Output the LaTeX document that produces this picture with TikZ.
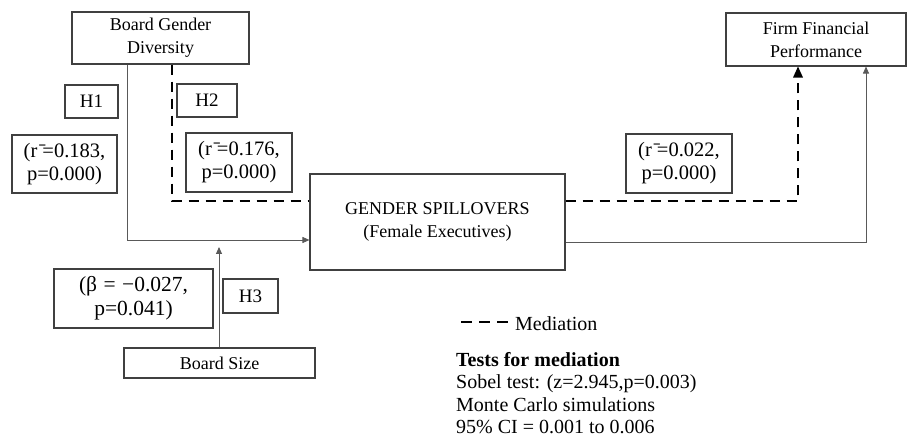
\documentclass[tikz,border=0pt]{standalone}
\usepackage{fontspec}
\setmainfont{Liberation Serif}
\usepackage{tikz}
\usetikzlibrary{arrows.meta}

\begin{document}
\begin{tikzpicture}[x=1pt,y=-1pt,
    box/.style={draw=black!75,line width=1.1pt,inner sep=0pt,align=center,
                font=\fontsize{18}{23}\selectfont},
    coef/.style={box,font=\fontsize{20.5}{23}\selectfont},
    hyp/.style={box,font=\fontsize{19}{23}\selectfont},
    link/.style={draw=black!65,line width=0.9pt,-{Triangle[length=7pt,width=6pt]}},
    med/.style={draw=black,line width=2.6pt,dash pattern=on 10pt off 7pt},
    legend/.style={font=\fontsize{20}{22.5}\selectfont,inner sep=0pt}]
    \useasboundingbox (0,0) rectangle (908,446);

    % variables
    \node[box,minimum width=177pt,minimum height=52pt] (bgd) at (160.5,38) {Board Gender\\Diversity};
    \node[box,minimum width=180pt,minimum height=53pt] (ffp) at (816,39.5) {Firm Financial\\Performance};
    \node[box,minimum width=255pt,minimum height=96pt] (gs) at (437.5,222) {GENDER SPILLOVERS\\(Female Executives)};
    \node[box,minimum width=191pt,minimum height=30pt] (bs) at (219.5,363) {Board Size};

    % hypotheses and coefficients
    \node[hyp,minimum width=53pt,minimum height=33pt] (h1) at (91.5,101.5) {H1};
    \node[hyp,minimum width=60pt,minimum height=33pt] (h2) at (207,100.5) {H2};
    \node[hyp,minimum width=55pt,minimum height=34pt] (h3) at (250.5,296) {H3};
    \node[coef,minimum width=105pt,minimum height=58pt] (r1) at (64.5,164) {(r\={}=0.183,\\p=0.000)};
    \node[coef,minimum width=106pt,minimum height=59pt] (r2) at (239,162.5) {(r\={}=0.176,\\p=0.000)};
    \node[coef,minimum width=106pt,minimum height=59pt] (r3) at (679,163.5) {(r\={}=0.022,\\p=0.000)};
    \node[coef,font=\fontsize{21.5}{24}\selectfont,minimum width=159pt,minimum height=59pt] (beta) at (133.5,298.5)
        {(β\hspace{0.3em}=\hspace{0.3em}−0.027,\\p=0.041)};

    % bends
    \coordinate (k1) at (127,240);
    \coordinate (k2) at (172,201);
    \coordinate (k3) at (798,201);
    \coordinate (k4) at (866,242);
    \coordinate (k5) at (219,247);

    \draw[link] (bgd.south -| k1) -- (k1) -- (k1 -| gs.west);
    \draw[link] (gs.east |- k4) -- (k4) -- (k4 |- ffp.south);
    \draw[link] (bs.north -| k5) -- (k5);
    \draw[med] (bgd.south -| k2) -- (k2) -- (k2 -| gs.west);
    \draw[med] (gs.east |- k3) -- (k3) -- ([yshift=-9pt]k3 |- ffp.south);
    \fill (k3 |- ffp.south) -- ++(-5,11) -- ++(10,0) -- cycle;

    % legend
    \coordinate (l1) at (461,322);
    \coordinate (l2) at (510,322);
    \draw[med,dash pattern=on 11pt off 7pt] (l1) -- (l2);
    \node[legend,anchor=west] (medtxt) at (515,324) {Mediation};
    \node[legend,anchor=north west,align=left] (tests) at (456,352)
        {\textbf{Tests for mediation}\\Sobel test: (z=2.945,p=0.003)\\Monte Carlo simulations\\95\% CI = 0.001 to 0.006};
\end{tikzpicture}
\end{document}
